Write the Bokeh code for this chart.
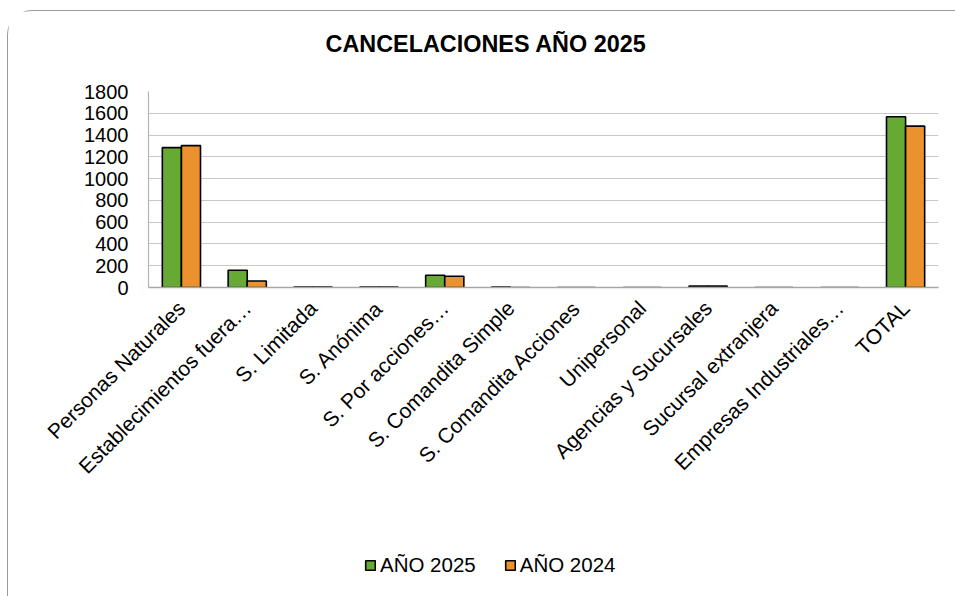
from math import pi
from bokeh.plotting import figure
from bokeh.layouts import column
from bokeh.models import ColumnDataSource, Legend, LegendItem, FactorRange, Range1d
from bokeh.transform import dodge
from bokeh.embed import file_html
from bokeh.resources import INLINE

categories = ["Personas Naturales", "Establecimientos fuera…", "S. Limitada", "S. Anónima",
              "S. Por acciones…", "S. Comandita Simple", "S. Comandita Acciones", "Unipersonal",
              "Agencias y Sucursales", "Sucursal extranjera", "Empresas Industriales…", "TOTAL"]
anio_2025 = [1285, 158, 5, 4, 112, 3, 0, 0, 13, 0, 0, 1568]
anio_2024 = [1303, 60, 5, 4, 104, 0, 0, 0, 13, 0, 0, 1482]
y_ticks = [0, 200, 400, 600, 800, 1000, 1200, 1400, 1600, 1800]
series_names = ["AÑO 2025", "AÑO 2024"]
series_colors = ["#66AA33", "#EB912D"]

src = ColumnDataSource(dict(cat=categories, a25=anio_2025, a24=anio_2024))

FONT = "Liberation Sans"
W = 948
p = figure(x_range=FactorRange(*categories), y_range=(0, 1800), width=W, height=530,
           output_backend="svg", toolbar_location=None,
           min_border_left=140, min_border_right=18, min_border_top=80, min_border_bottom=254)

p.title.text = "CANCELACIONES AÑO 2025"
p.title.align = "left"
p.title.text_font = FONT
p.title.text_font_size = "23.4px"
p.title.text_font_style = "bold"
p.title.text_color = "black"
p.title.offset = 177
p.title.standoff = 10
p.title.padding = dict(left=0, right=0, top=0, bottom=30)

p.vbar(x=dodge("cat", -0.145, range=p.x_range), top="a25", width=0.29, source=src,
       fill_color=series_colors[0], line_color="black", line_width=1.6)
p.vbar(x=dodge("cat", 0.145, range=p.x_range), top="a24", width=0.29, source=src,
       fill_color=series_colors[1], line_color="black", line_width=1.6)

p.outline_line_color = None
p.xgrid.grid_line_color = None
p.ygrid.grid_line_color = "#c8c8c8"
p.ygrid.grid_line_width = 1.2
p.yaxis.ticker = y_ticks
p.yaxis.axis_line_color = "#b4b4b4"
p.yaxis.axis_line_width = 1.2
p.yaxis.major_tick_line_color = None
p.yaxis.major_tick_out = 0
p.yaxis.major_tick_in = 0
p.yaxis.minor_tick_line_color = None
p.yaxis.major_label_text_font = FONT
p.yaxis.major_label_text_font_size = "20px"
p.yaxis.major_label_text_color = "black"
p.yaxis.major_label_standoff = 20

p.xaxis.axis_line_color = "#a6a6a6"
p.xaxis.axis_line_width = 1.5
p.xaxis.major_tick_line_color = None
p.xaxis.major_tick_out = 0
p.xaxis.major_tick_in = 0
p.xaxis.major_label_orientation = pi / 4
p.xaxis.major_label_text_font = FONT
p.xaxis.major_label_text_font_size = "21px"
p.xaxis.major_label_text_color = "black"
p.xaxis.major_label_standoff = 17
p.x_range.range_padding = 0
p.x_range.group_padding = 0

# legend strip (its own small plot; the dummy bars lie outside its ranges)
leg = figure(width=W, height=56, output_backend="svg", toolbar_location=None,
             x_axis_type=None, y_axis_type=None,
             x_range=Range1d(10, 11), y_range=Range1d(10, 11),
             min_border_left=0, min_border_right=0, min_border_top=0, min_border_bottom=0)
leg.outline_line_color = None
leg.grid.grid_line_color = None
r1 = leg.vbar(x=[0], top=[0], width=1, fill_color=series_colors[0], line_color="black", line_width=1.6)
r2 = leg.vbar(x=[0], top=[0], width=1, fill_color=series_colors[1], line_color="black", line_width=1.6)
legend = Legend(items=[LegendItem(label=series_names[0], renderers=[r1]),
                       LegendItem(label=series_names[1], renderers=[r2])],
                orientation="horizontal", location=(216, 20),
                label_text_font=FONT, label_text_font_size="20.5px", label_text_color="black",
                glyph_width=12, glyph_height=12, spacing=28, label_standoff=4,
                padding=0, margin=0, label_height=20,
                border_line_color=None, background_fill_alpha=0)
leg.add_layout(legend, "center")

layout = column(p, leg, spacing=0,
                styles={"margin-left": "7px", "margin-top": "10px",
                        "border-top": "1.5px solid #9a9a9a", "border-left": "1.5px solid #9a9a9a",
                        "border-top-left-radius": "25px"})

open("out.html", "w").write(file_html(layout, INLINE))
